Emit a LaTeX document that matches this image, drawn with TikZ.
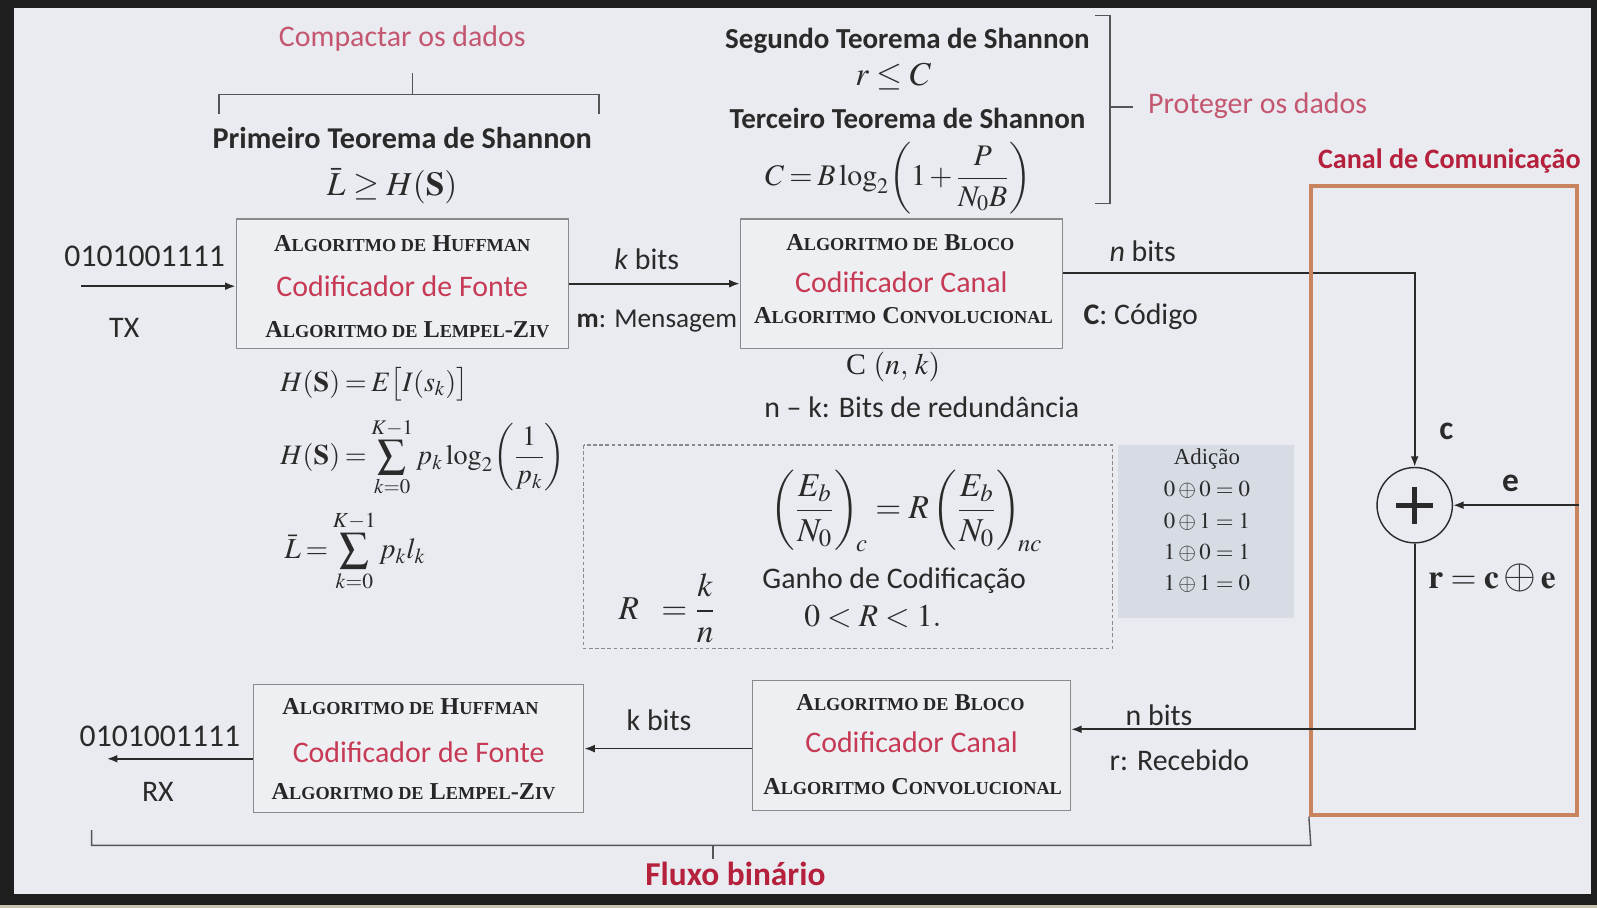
\documentclass[tikz,border=0pt]{standalone}
\usepackage{amsmath}
\usepackage{mathptmx}
\usepackage[no-math]{fontspec}
\setmainfont{Carlito}
\newfontfamily\tnr{Liberation Serif}
\usetikzlibrary{arrows.meta,fit}
\definecolor{bg}{HTML}{E9EBF0}
\definecolor{ink}{HTML}{2A2A2A}
\definecolor{boxgray}{HTML}{8A8A8A}
\definecolor{boxfill}{HTML}{EEEFF2}
\definecolor{redc}{HTML}{C73A55}
\definecolor{pinkc}{HTML}{C45670}
\definecolor{deepred}{HTML}{B5203C}
\definecolor{chanc}{HTML}{C8845F}
\definecolor{addfill}{HTML}{D6DBE4}
\definecolor{bezel}{HTML}{1E1E1E}
\definecolor{beige}{HTML}{C9C3B0}
\newcommand\Sm[1]{{\fontsize{10.4}{12}\selectfont #1}}
\newcommand\tightmu{\thickmuskip=3mu\relax\medmuskip=2mu\relax}
\begin{document}
\begin{tikzpicture}[x=0.02037cm,y=-0.02037cm,
  txt/.style={text=ink, font=\fontsize{17}{20}\selectfont, inner sep=0},
  bld/.style={text=ink, font=\fontsize{16.5}{20}\selectfont\bfseries, inner sep=0},
  alg/.style={text=black!85, font=\tnr\bfseries\fontsize{13.8}{16}\selectfont, inner sep=0},
  mth/.style={text=ink, font=\fontsize{19}{22}\selectfont, inner sep=0},
  sml/.style={text=ink, font=\fontsize{13}{15}\selectfont, inner sep=0},
  box/.style={draw=boxgray, line width=0.8pt, fill=boxfill, inner sep=0},
  arr/.style={draw=ink, line width=1pt, -{Latex[length=6pt,width=4.5pt]}},
  brk/.style={draw=ink!80, line width=0.8pt},
]
% background and bezel
\fill[bg] (0,0) rectangle (1568,891);
\useasboundingbox (0,0) rectangle (1568,891);
\fill[bezel] (0,0) rectangle (1568,8);
\fill[bezel] (0,0) rectangle (14,891);
\fill[bezel] (1562,0) rectangle (1568,891);
\fill[bezel] (0,878) rectangle (1568,889);
\fill[beige] (0,889) rectangle (1568,891);

% ---- top left: first theorem
\node[txt, text=pinkc] (cmp) at (395,38) {Compactar os dados};
\draw[brk] (215,112) -- (215,93) -- (588,93) -- (588,112);
\draw[brk] (405,93) -- (405,72);
\node[bld, font=\fontsize{17.2}{20}\selectfont\bfseries] (t1) at (395,135) {Primeiro Teorema de Shannon};
\node[mth] (lh) at (385,183) {$\bar{L}\ge H(\mathbf{S})$};

% ---- top middle: second and third theorems
\node[bld] (t2) at (891,40) {Segundo Teorema de Shannon};
\node[mth] (rc) at (877,75) {$r\le C$};
\node[bld] (t3) at (891,116) {Terceiro Teorema de Shannon};
\node[mth, font=\fontsize{17}{20}\selectfont] (cap) at (882,175) {\tightmu$C=B\log_2\!\left(1+\dfrac{P}{N_0B}\right)$};
\draw[brk] (1075,15) -- (1090,15) -- (1090,200) -- (1075,200);
\draw[brk] (1090,105) -- (1112,105);
\node[txt, text=pinkc, anchor=west] (prot) at (1127,104) {Proteger os dados};

% ---- TX row
\node[box, fit={(232,215) (558,342)}] (b1) {};
\node[alg] at (395,239) {A\Sm{LGORITMO DE} H\Sm{UFFMAN}};
\node[txt, text=redc] at (395,281) {Codificador de Fonte};
\node[alg] at (400,324) {A\Sm{LGORITMO DE} L\Sm{EMPEL}-Z\Sm{IV}};

\node[box, fit={(727,215) (1043,342)}] (b2) {};
\node[alg] at (884,238) {A\Sm{LGORITMO DE} B\Sm{LOCO}};
\node[txt, text=redc] at (885,277) {Codificador Canal};
\node[alg] at (887,310) {A\Sm{LGORITMO} C\Sm{ONVOLUCIONAL}};

\coordinate (tx) at (80,281);
\draw[arr] (tx) -- (tx -| b1.west);
\node[txt, font=\fontsize{18}{20}\selectfont] (bits1) at (142,252) {0101001111};
\node[txt] (txl) at (122,322) {TX};

\draw[arr] (b1) -- (b2);
\node[txt] (kb1) at (635,255) {\textit{k} bits};
\node[txt, font=\fontsize{15.5}{18}\selectfont] (msg) at (645,315) {\textbf{m}: Mensagem};

\coordinate (cn) at (1389,268);
\node[draw=ink, circle, line width=0.8pt, minimum size=1.507cm, inner sep=0] (sum) at (1389,496) {};
\draw[ink, line width=3pt] (1371,496) -- (1407,496) (1389,478) -- (1389,514);
\draw[arr] (b2.east |- cn) -- (cn) -- (sum.north);
\node[txt] (nb1) at (1122,247) {\textit{n} bits};
\node[txt] (cod) at (1120,311) {\textbf{C}: Código};

\node[alg, font=\tnr\fontsize{17}{20}\selectfont] (cnk) at (877,360) {C $(n,\,k)$};
\node[txt] (red) at (905,400) {n -- k: Bits de redundância};

% ---- left formulas
\node[mth, font=\fontsize{16}{20}\selectfont, anchor=west] (f1) at (275,377) {\tightmu$H(\mathbf{S})=E\bigl[I(s_k)\bigr]$};
\node[mth, font=\fontsize{16}{20}\selectfont, anchor=west] (f2) at (275,449) {\tightmu$H(\mathbf{S})=\displaystyle\sum_{k=0}^{K-1}p_k\log_2\!\left(\frac{1}{p_k}\right)$};
\node[mth, font=\fontsize{16.5}{20}\selectfont, anchor=west] (f3) at (279,541) {\tightmu$\bar{L}=\displaystyle\sum_{k=0}^{K-1}p_k l_k$};

% ---- dashed box
\draw[boxgray, line width=0.7pt, dash pattern=on 2pt off 1.5pt] (573,437) rectangle (1092,637);
\node[mth] (gain) at (890,502) {$\displaystyle\left(\frac{E_b}{N_0}\right)_{\!c}=R\left(\frac{E_b}{N_0}\right)_{\!nc}$};
\node[txt] (gc) at (878,570) {Ganho de Codificação};
\node[mth, font=\fontsize{18}{20}\selectfont] (rr) at (857,605) {$0<R<1.$};
\node[mth] (rate) at (655,597) {$R\;\;=\dfrac{k}{n}$};

% ---- addition table
\fill[addfill] (1098,437) rectangle (1270,607);
\node[sml, font=\tnr\fontsize{13}{15}\selectfont] (ad) at (1185,451) {Adição};
\node[sml] (a1) at (1185,481) {$0\oplus0=0$};
\node[sml] (a2) at (1185,512) {$0\oplus1=1$};
\node[sml] (a3) at (1185,543) {$1\oplus0=1$};
\node[sml] (a4) at (1185,573) {$1\oplus1=0$};

% ---- channel
\node[draw=chanc, line width=2.2pt, fit={(1287,183) (1548,800)}, inner sep=0] (chan) {};
\node[bld, text=deepred, font=\fontsize{16}{20}\selectfont\bfseries] (chl) at (1423,158) {Canal de Comunicação};
\node[bld, font=\fontsize{19}{20}\selectfont\bfseries] (cl) at (1420,424) {c};
\node[bld, font=\fontsize{19}{20}\selectfont\bfseries] (el) at (1483,475) {e};
\draw[arr] (chan.east |- sum.east) -- (sum.east);
\node[mth] (rce) at (1465,567) {$\mathbf{r}=\mathbf{c}\mathbin{\text{\fontsize{24}{24}\selectfont$\oplus$}}\mathbf{e}$};

% ---- RX row
\node[box, fit={(739,668) (1051,796)}] (b3) {};
\node[alg] at (894,690) {A\Sm{LGORITMO DE} B\Sm{LOCO}};
\node[txt, text=redc] at (895,729) {Codificador Canal};
\node[alg] at (896,772) {A\Sm{LGORITMO} C\Sm{ONVOLUCIONAL}};

\node[box, fit={(249,672) (573,798)}] (b4) {};
\node[alg] at (403,694) {A\Sm{LGORITMO DE} H\Sm{UFFMAN}};
\node[txt, text=redc] at (411,739) {Codificador de Fonte};
\node[alg] at (406,777) {A\Sm{LGORITMO DE} L\Sm{EMPEL}-Z\Sm{IV}};

\coordinate (cr) at (1389,716);
\draw[arr] (sum.south) -- (cr) -- (cr -| b3.east);
\node[txt] (nb2) at (1138,702) {n bits};
\node[txt] (rec) at (1158,746) {r: Recebido};

\coordinate (kk) at (656,735);
\draw[arr] (kk -| b3.west) -- (kk -| b4.east);
\node[txt] (kb2) at (647,707) {k bits};

\coordinate (rx) at (105,745);
\draw[arr] (rx -| b4.west) -- (rx);
\node[txt, font=\fontsize{18}{20}\selectfont] (bits2) at (157,723) {0101001111};
\node[txt] (rxl) at (155,778) {RX};

% ---- bottom brace
\draw[brk] (90,815) -- (90,830) -- (1287,830) -- (chan.south west);
\draw[brk] (700,830) -- (700,843);
\node[bld, text=deepred, font=\fontsize{19}{22}\selectfont\bfseries] (flx) at (722,858) {Fluxo binário};
\end{tikzpicture}
\end{document}
